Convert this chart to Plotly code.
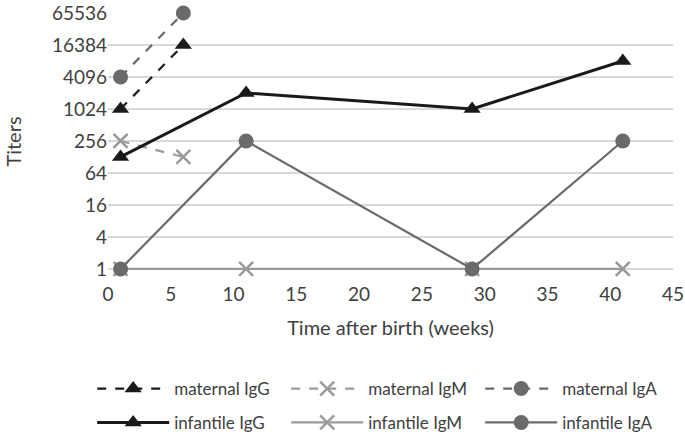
import plotly.graph_objects as go

# Data
mat_weeks = [1, 6]
maternal_igg = [1024, 16384]
maternal_igm = [256, 128]
maternal_iga = [4096, 65536]

inf_weeks = [1, 11, 29, 41]
infantile_igg = [128, 2048, 1024, 8192]
infantile_igm = [1, 1, 1, 1]
infantile_iga = [1, 256, 1, 256]

y_ticks = [1, 4, 16, 64, 256, 1024, 4096, 16384, 65536]
x_ticks = [0, 5, 10, 15, 20, 25, 30, 35, 40, 45]

FONT = "Lato"
fig = go.Figure()

def add(name, x, y, color, dash, width, symbol, msize, legend, mline=0):
    fig.add_trace(go.Scatter(
        x=x, y=y, name=name, mode="lines+markers", cliponaxis=False,
        legend=legend,
        line=dict(color=color, dash=dash, width=width),
        marker=dict(symbol=symbol, size=msize, color=color,
                    line=dict(width=mline, color=color)),
    ))

add("maternal IgG", mat_weeks, maternal_igg, "#1a1a1a", "dash", 2.2, "triangle-up", 15, "legend")
add("maternal IgM", mat_weeks, maternal_igm, "#9a9a9a", "dash", 2.2, "x-thin-open", 14, "legend", 2.5)
add("maternal IgA", mat_weeks, maternal_iga, "#6a6a6a", "dash", 2.2, "circle", 15, "legend")
add("infantile IgG", inf_weeks, infantile_igg, "#1a1a1a", "solid", 3, "triangle-up", 15, "legend2")
add("infantile IgM", inf_weeks, infantile_igm, "#9a9a9a", "solid", 2.2, "x-thin-open", 14, "legend2", 2.5)
add("infantile IgA", inf_weeks, infantile_iga, "#6a6a6a", "solid", 2.2, "circle", 15, "legend2")

leg_common = dict(orientation="h", x=-0.028, xanchor="left", yanchor="top",
                  entrywidth=107, entrywidthmode="pixels", itemwidth=72,
                  font=dict(size=17, color="#404040"), bgcolor="rgba(0,0,0,0)")

fig.update_layout(
    width=685, height=435,
    margin=dict(l=108, r=12, t=13, b=165, autoexpand=False),
    plot_bgcolor="white", paper_bgcolor="white",
    font=dict(family=FONT, size=16, color="#404040"),
    legend=dict(y=-0.393, **leg_common),
    legend2=dict(y=-0.525, **leg_common),
    showlegend=True,
)
fig.update_xaxes(
    range=[0, 45], tickvals=x_ticks, showgrid=False, zeroline=False,
    showline=False, ticks="", ticklabelstandoff=11,
    tickfont=dict(size=19, color="#404040"),
    title=dict(text="Time after birth (weeks)", font=dict(size=20, color="#404040"), standoff=16),
)
fig.update_yaxes(
    type="log", range=[-0.02, 4.81648], tickvals=y_ticks,
    ticktext=[str(v) for v in y_ticks],
    showgrid=True, gridcolor="#d9d9d9", gridwidth=1.5, zeroline=False,
    showline=False, ticks="",
    tickfont=dict(size=19, color="#404040"),
    title=dict(text="Titers", font=dict(size=20, color="#404040"), standoff=24),
)

fig.write_html("out.html", config={"displayModeBar": False},
               post_script="document.body.style.margin='0';")
